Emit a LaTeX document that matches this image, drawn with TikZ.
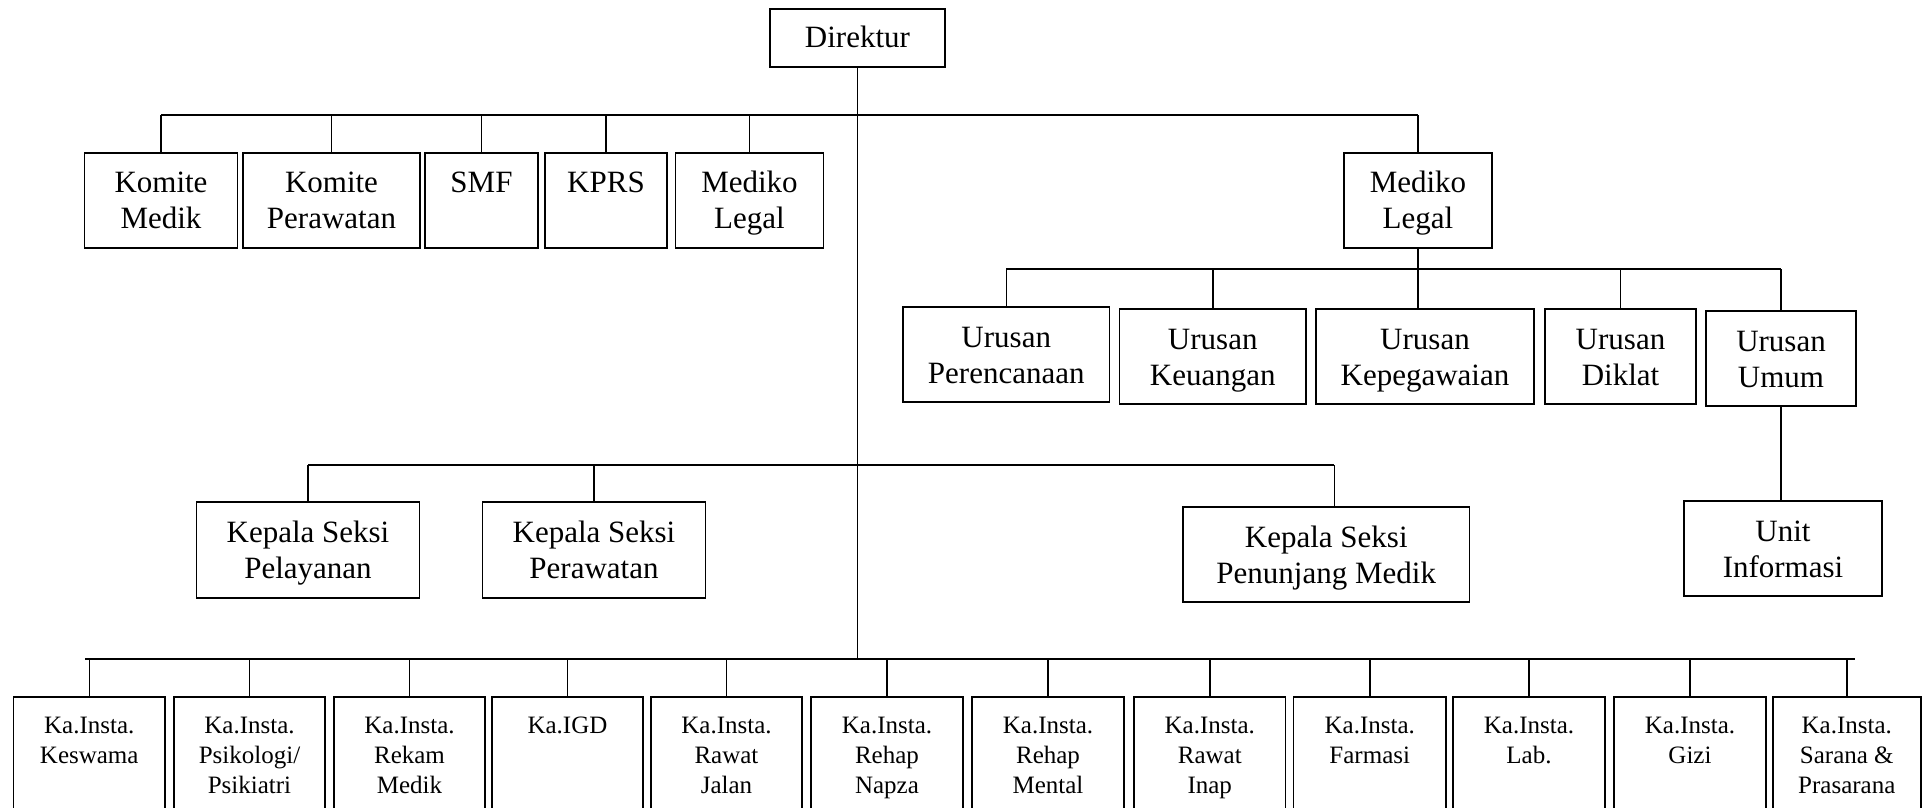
\documentclass[tikz,border=0pt]{standalone}
\usepackage{fontspec}
\setmainfont{Liberation Serif}
\tikzset{
  orgbox/.style={draw, line width=0.9pt, inner sep=0pt, rectangle},
  busline/.style={line width=1pt},
  dropline/.style={line width=0.75pt},
}
% name, x1, y1, x2, y2, strut, text  (coordinates in px)
\newcommand\obox[7]{%
  \pgfmathsetmacro\obW{(#4-#2)*0.5}%
  \pgfmathsetmacro\obH{(#5-#3)*0.5}%
  \node[orgbox] (#1) at ({(#2+#4)/2},{(#3+#5)/2})
    {\parbox[c][\obH pt][t]{\obW pt}{\centering\rule{0pt}{#6}#7}};%
}
\newcommand\bigtxt{\fontsize{15.5pt}{18pt}\selectfont}
\newcommand\smalltxt{\fontsize{12.5pt}{15pt}\selectfont}
\begin{document}
\begin{tikzpicture}[x=0.5pt,y=-0.5pt]
\path[use as bounding box] (0,0) rectangle (1923,808);
\clip (0,0) rectangle (1923,808);
\fill[white] (0,0) rectangle (1923,808);

% top
\obox{dir}{770}{9}{945}{67}{19.5pt}{\bigtxt Direktur}
\obox{km}{84.5}{153}{237.5}{248}{20pt}{\bigtxt Komite\\Medik}
\obox{kp}{243}{153}{420}{248}{20pt}{\bigtxt Komite\\Perawatan}
\obox{smf}{425}{153}{538}{248}{20pt}{\bigtxt SMF}
\obox{kprs}{545}{153}{667}{248}{20pt}{\bigtxt KPRS}
\obox{mla}{675.5}{153}{823.5}{248}{20pt}{\bigtxt Mediko\\Legal}
\obox{mlb}{1344}{153}{1492}{248}{20pt}{\bigtxt Mediko\\Legal}

% urusan
\obox{ua}{903}{307}{1109.5}{402}{20pt}{\bigtxt Urusan\\Perencanaan}
\obox{ub}{1119.5}{309}{1306}{404}{20pt}{\bigtxt Urusan\\Keuangan}
\obox{uc}{1316}{309}{1534}{404}{20pt}{\bigtxt Urusan\\Kepegawaian}
\obox{ud}{1545}{309}{1696}{404}{20pt}{\bigtxt Urusan\\Diklat}
\obox{ue}{1706}{311}{1856}{406}{20pt}{\bigtxt Urusan\\Umum}
\obox{unit}{1684}{501}{1882}{596}{20pt}{\bigtxt Unit\\Informasi}

% kepala seksi
\obox{ksa}{196.5}{502}{419.5}{598}{20pt}{\bigtxt Kepala Seksi\\Pelayanan}
\obox{ksb}{482.5}{502}{705.5}{598}{20pt}{\bigtxt Kepala Seksi\\Perawatan}
\obox{ksc}{1183}{507}{1469.5}{602}{20pt}{\bigtxt Kepala Seksi\\Penunjang Medik}

% bottom row
\obox{ba}{13.5}{697}{165}{850}{18pt}{\smalltxt Ka.Insta.\\Keswama}
\obox{bb}{174}{697}{325}{850}{18pt}{\smalltxt Ka.Insta.\\Psikologi/\\Psikiatri}
\obox{bc}{334}{697}{485}{850}{18pt}{\smalltxt Ka.Insta.\\Rekam\\Medik}
\obox{bd}{492}{697}{643}{850}{18pt}{\smalltxt Ka.IGD}
\obox{be}{651}{697}{802}{850}{18pt}{\smalltxt Ka.Insta.\\Rawat\\Jalan}
\obox{bf}{811}{697}{963}{850}{18pt}{\smalltxt Ka.Insta.\\Rehap\\Napza}
\obox{bg}{972}{697}{1124}{850}{18pt}{\smalltxt Ka.Insta.\\Rehap\\Mental}
\obox{bh}{1134}{697}{1285.5}{850}{18pt}{\smalltxt Ka.Insta.\\Rawat\\Inap}
\obox{bi}{1293.5}{697}{1446}{850}{18pt}{\smalltxt Ka.Insta.\\Farmasi}
\obox{bj}{1453}{697}{1605}{850}{18pt}{\smalltxt Ka.Insta.\\Lab.}
\obox{bk}{1614}{697}{1766}{850}{18pt}{\smalltxt Ka.Insta.\\Gizi}
\obox{bl}{1772.6}{697}{1921}{850}{18pt}{\smalltxt Ka.Insta.\\Sarana \&\\Prasarana}

% bus levels
\coordinate (ya) at (0,115);
\coordinate (yb) at (0,269);
\coordinate (yc) at (0,465);
\coordinate (yd) at (0,659);

% trunk
\draw[dropline] (dir.south) -- (dir.south |- yd);

% bus 1
\draw[busline] (km.north |- ya) -- (mlb.north |- ya);
\foreach \n in {km,kp,smf,kprs,mla,mlb}
  \draw[dropline] (\n.north) -- (\n.north |- ya);

% bus 2
\draw[busline] (ua.north |- yb) -- (ue.north |- yb);
\draw[dropline] (mlb.south) -- (mlb.south |- uc.north);
\foreach \n in {ua,ub,ud,ue}
  \draw[dropline] (\n.north) -- (\n.north |- yb);
\draw[dropline] (ue.south) -- (ue.south |- unit.north);

% bus 3
\coordinate (kscd) at ([xshift=4pt]ksc.north);
\draw[busline] (ksa.north |- yc) -- (kscd |- yc);
\draw[dropline] (ksa.north) -- (ksa.north |- yc);
\draw[dropline] (ksb.north) -- (ksb.north |- yc);
\draw[dropline] (kscd) -- (kscd |- yc);

% bus 4
\draw[busline] ([xshift=-2pt]ba.north |- yd) -- ([xshift=4pt]bl.north |- yd);
\foreach \n in {ba,bb,bc,bd,be,bf,bg,bh,bi,bj,bk,bl}
  \draw[dropline] (\n.north) -- (\n.north |- yd);
\end{tikzpicture}
\end{document}
